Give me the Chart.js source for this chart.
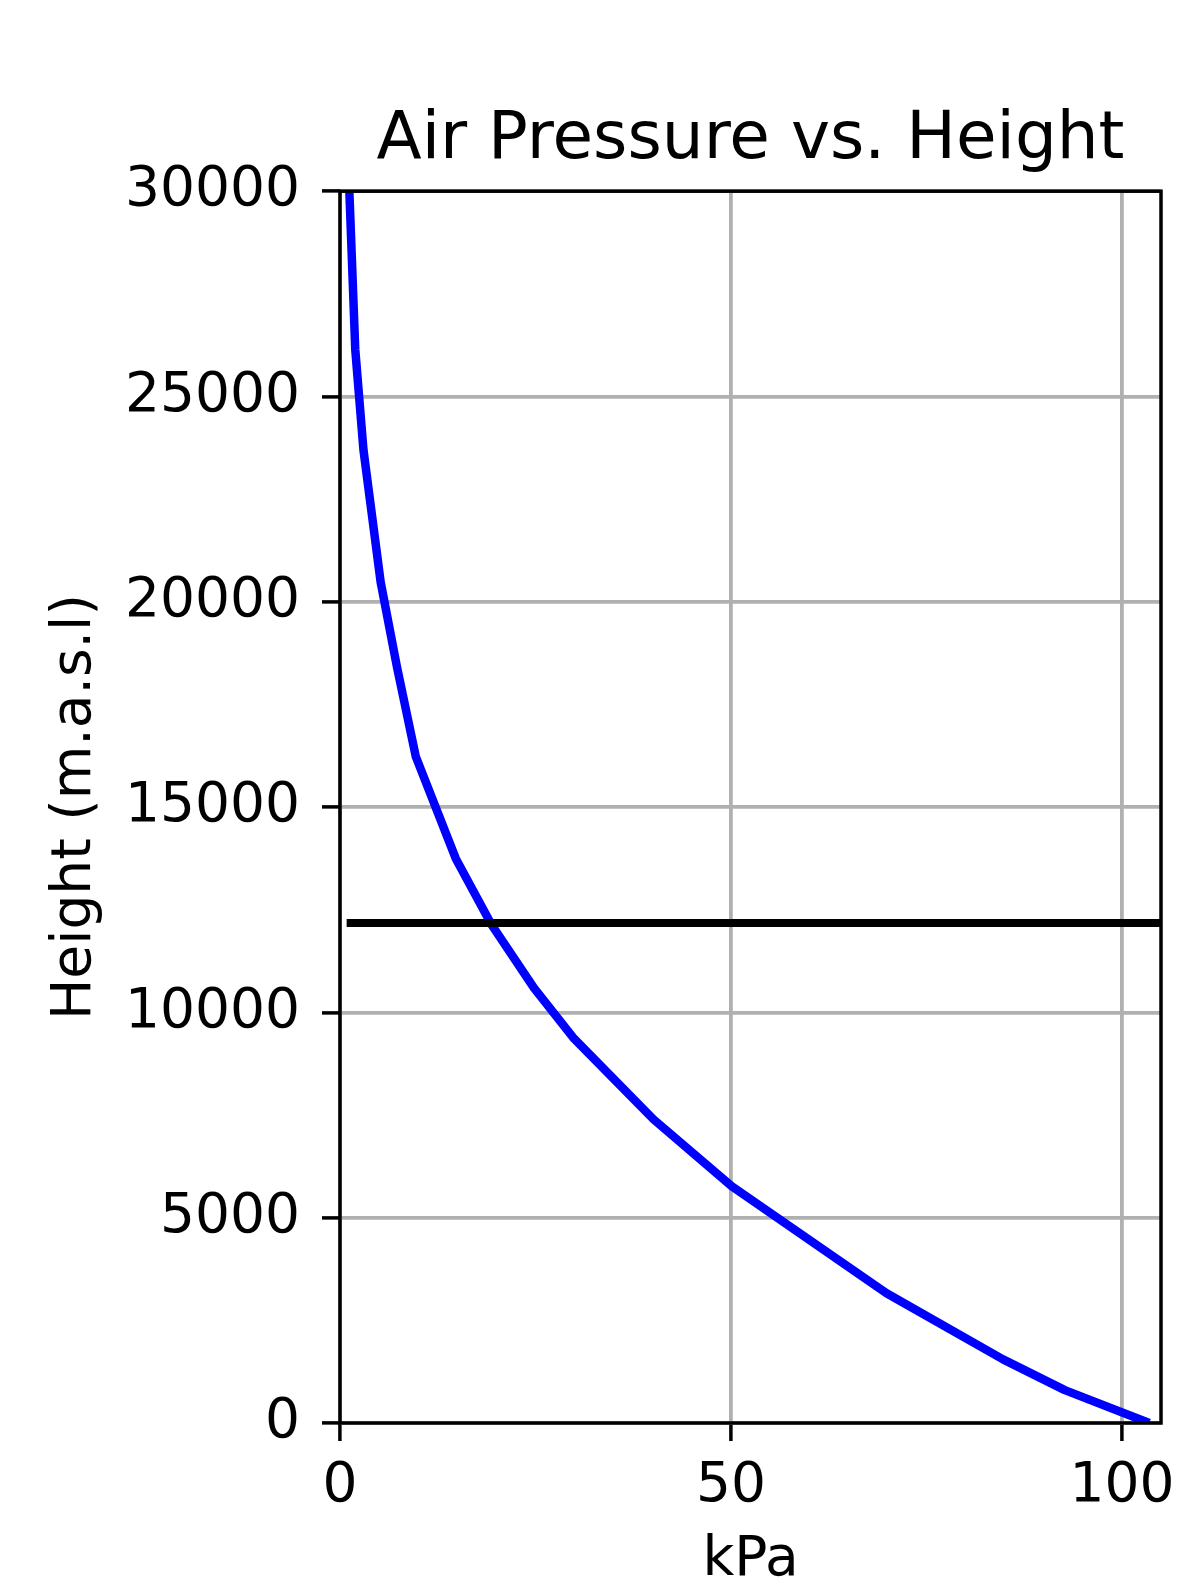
<!DOCTYPE html>
<html>
<head>
<meta charset="utf-8">
<title>Air Pressure vs. Height</title>
<script src="https://cdn.jsdelivr.net/npm/chart.js@4.4.1/dist/chart.umd.min.js"></script>
<style>
  html, body { margin: 0; padding: 0; background: #fff; }
  #wrap { width: 1204px; height: 1595px; }
</style>
</head>
<body>
<div id="wrap"><canvas id="pressureChart" width="1204" height="1595"></canvas></div>
<script>
// Curve: pressure (kPa) against height (m)
const pressureKpa = [1.0, 1.95, 3.0, 5.2, 7.3, 9.7, 14.8, 19.4, 24.8, 29.8, 40.1, 50.1, 69.9, 84.8, 92.7, 103.5];
const heightM = [31000, 26150, 23700, 20480, 18400, 16225, 13750, 12130, 10600, 9390, 7395, 5765, 3160, 1550, 800, 0];

// Horizontal reference line
const refLineX = [0.85, 105];
const refLineHeight = 12180;

const xTicks = [0, 50, 100];
const yTicks = [0, 5000, 10000, 15000, 20000, 25000, 30000];

// matplotlib style box round the plot area
const framePlugin = {
    id: 'frame',
    afterDatasetsDraw(chart) {
        const { ctx, chartArea: a } = chart;
        ctx.save();
        ctx.strokeStyle = '#000';
        ctx.lineWidth = 3.5;
        ctx.strokeRect(a.left, a.top, a.right - a.left, a.bottom - a.top);
        ctx.restore();
    }
};

document.addEventListener('DOMContentLoaded', () => {
    Chart.defaults.font.family = "'DejaVu Sans', sans-serif";
    Chart.defaults.color = '#000';

    const curve = pressureKpa.map((p, i) => ({ x: p, y: heightM[i] }));
    const refLine = refLineX.map(x => ({ x: x, y: refLineHeight }));

    const ctx = document.getElementById('pressureChart').getContext('2d');
    new Chart(ctx, {
        type: 'line',
        data: {
            datasets: [
                {
                    data: refLine,
                    borderColor: '#000',
                    borderWidth: 8,
                    pointRadius: 0,
                    clip: 0
                },
                {
                    data: curve,
                    borderColor: '#0000ff',
                    borderWidth: 8.5,
                    borderJoinStyle: 'round',
                    pointRadius: 0,
                    tension: 0,
                    clip: 0
                }
            ]
        },
        options: {
            responsive: false,
            animation: false,
            devicePixelRatio: 1,
            layout: { padding: { left: 0, right: 43, top: 0, bottom: 0 } },
            plugins: {
                legend: { display: false },
                tooltip: { enabled: false },
                title: {
                    display: true,
                    text: 'Air Pressure vs. Height',
                    fullSize: false,
                    font: { size: 66, weight: 'normal' },
                    padding: { top: 101, bottom: 11 }
                }
            },
            scales: {
                x: {
                    type: 'linear',
                    min: 0,
                    max: 105,
                    afterFit: s => { s.height = 172; },
                    afterBuildTicks: s => { s.ticks = xTicks.map(v => ({ value: v })); },
                    border: { display: false },
                    grid: { color: '#b0b0b0', lineWidth: 3.8, tickColor: '#000', tickWidth: 3.5, tickLength: 18 },
                    ticks: { font: { size: 55 }, padding: 13, maxRotation: 0, autoSkip: false, callback: v => String(v) },
                    title: { display: true, text: 'kPa', font: { size: 55 }, padding: { top: 0, bottom: 1 } }
                },
                y: {
                    type: 'linear',
                    min: 0,
                    max: 30000,
                    afterFit: s => { s.width = 340; },
                    afterBuildTicks: s => { s.ticks = yTicks.map(v => ({ value: v })); },
                    border: { display: false },
                    grid: { color: '#b0b0b0', lineWidth: 3.8, tickColor: '#000', tickWidth: 3.5, tickLength: 18 },
                    ticks: { font: { size: 55 }, padding: 22, autoSkip: false, callback: v => String(v) },
                    title: { display: true, text: 'Height (m.a.s.l)', font: { size: 55 }, padding: { top: 43, bottom: 0 } }
                }
            }
        },
        plugins: [framePlugin]
    });
});
</script>
</body>
</html>
